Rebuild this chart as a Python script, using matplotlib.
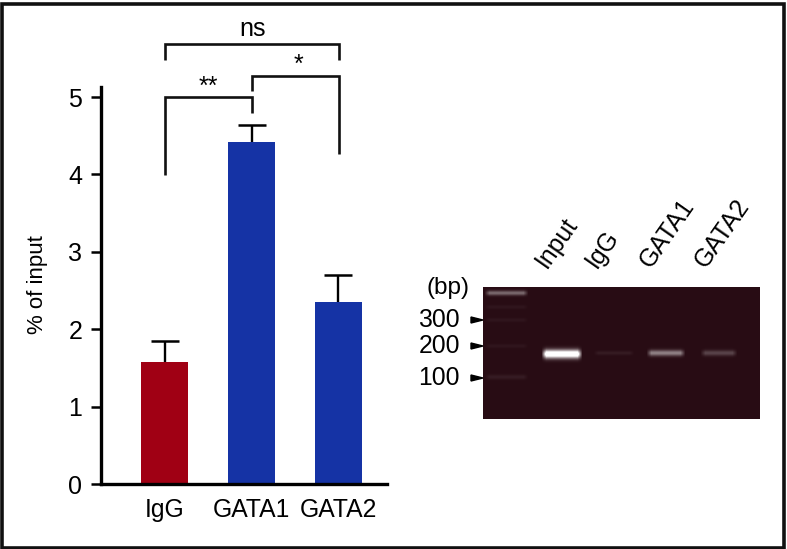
#!/usr/bin/env python3
import matplotlib
matplotlib.use('Agg')
import matplotlib.pyplot as plt
from matplotlib.patches import Rectangle
import numpy as np

W, H = 787, 549

categories = ['IgG', 'GATA1', 'GATA2']
means = [1.58, 4.42, 2.35]
err_up = [0.27, 0.22, 0.35]
bar_colors = ['#a00014', '#1533a5', '#1533a5']
y_ticks = [0, 1, 2, 3, 4, 5]

lanes = ['Input', 'IgG', 'GATA1', 'GATA2']
size_labels = ['300', '200', '100']
size_rows = [320, 346, 378]

# gel bands: x from, x to, y centre, half height, brightness (0-1)
band_x0 = [487, 544, 596, 649, 703, 487, 487, 487, 487]
band_x1 = [526, 580, 632, 683, 735, 526, 526, 526, 526]
band_y = [293, 354, 353, 353, 353, 377, 346, 320, 307]
band_h = [2.4, 4.2, 2.0, 3.0, 2.8, 2.4, 2.0, 2.0, 2.0]
band_v = [0.30, 1.0, 0.05, 0.38, 0.18, 0.05, 0.03, 0.03, 0.03]

plt.rcParams['font.family'] = ['Liberation Sans', 'DejaVu Sans']

fig = plt.figure(figsize=(W / 100, H / 100), dpi=100, facecolor='white')


def pix_axes(x0, y0, x1, y1):
    return fig.add_axes([x0 / W, 1 - y1 / H, (x1 - x0) / W, (y1 - y0) / H])


# outer frame
fig.add_artist(Rectangle((1.5 / W, 1.5 / H), 782.5 / W, 544 / H, transform=fig.transFigure,
                         fill=False, edgecolor='#111111', linewidth=2.6))

# bar chart, 0 at y=484 and 5 at y=97
ax = pix_axes(101, 87, 387, 484)
ax.patch.set_alpha(0)
ax.set_ylim(0, 397 / 77.4)
ax.set_xlim(101, 387)
xpos = [164.5, 251.5, 338]
tops = [m + e for m, e in zip(means, err_up)]
ax.bar(xpos, means, width=47, color=bar_colors, zorder=2)
ax.vlines(xpos, means, tops, color='black', linewidth=1.7, zorder=1)
ax.plot(xpos, tops, linestyle='none', marker='_', markersize=20, markeredgewidth=1.8,
        color='black', zorder=1)
for side in ['top', 'right']:
    ax.spines[side].set_visible(False)
for side in ['left', 'bottom']:
    ax.spines[side].set_linewidth(2.4)
ax.set_yticks(y_ticks)
ax.set_xticks(xpos)
ax.set_xticklabels(categories, fontsize=17.8)
ax.tick_params(axis='x', length=0, pad=10)
ax.tick_params(axis='y', length=7.5, width=1.8, labelsize=18, pad=6)

fig.text(37 / W, 1 - 285 / H, '% of input', rotation=90, ha='center', va='center',
         fontsize=16)


def bracket(xs, ys):
    fig.add_artist(plt.Line2D([x / W for x in xs], [1 - y / H for y in ys], color='#111111',
                              linewidth=1.9, solid_capstyle='butt', solid_joinstyle='miter'))


# significance brackets
bracket([164.5, 164.5, 339, 339], [60, 44, 44, 60])
bracket([252, 252, 339, 339], [91, 75.5, 75.5, 154])
bracket([164.5, 164.5, 252, 252], [175, 97, 97, 113])
fig.text(253 / W, 1 - 29 / H, 'ns', ha='center', va='center', fontsize=18)
fig.text(298 / W, 1 - 65 / H, '*', ha='center', va='center', fontsize=18)
fig.text(208 / W, 1 - 87 / H, '**', ha='center', va='center', fontsize=18)

# gel picture
gx0, gy0, gx1, gy1 = 483, 287, 760, 419
gel = pix_axes(gx0, gy0, gx1, gy1)
xx, yy = np.meshgrid(np.arange(gx0, gx1) + 0.5, np.arange(gy0, gy1) + 0.5)
signal = np.zeros(xx.shape)
for x0, x1, yc, h, v in zip(band_x0, band_x1, band_y, band_h, band_v):
    across = np.clip(np.minimum(xx - x0, x1 - xx) / 5 + 0.5, 0, 1)
    down = np.exp(-((yy - yc) / h) ** 2)
    signal = np.maximum(signal, v * across * down)
base = np.array([40, 12, 20]) / 255
img = base + (1 - base) * np.clip(signal * 1.25, 0, 1)[..., None]
gel.imshow(img, extent=[gx0, gx1, gy1, gy0], aspect='auto', interpolation='bilinear')
gel.axis('off')

# size markers
fig.text(469 / W, 1 - 288 / H, '(bp)', ha='right', va='center', fontsize=17.5)
for label, row in zip(size_labels, size_rows):
    fig.text(460 / W, 1 - row / H, label, ha='right', va='center', fontsize=17.8)
    fig.add_artist(plt.Polygon([[471 / W, 1 - (row - 3) / H], [483 / W, 1 - row / H],
                                [471 / W, 1 - (row + 3) / H]], closed=True,
                               transform=fig.transFigure, color='black'))

# lane labels
for label, x in zip(lanes, [551, 601, 655, 710]):
    fig.text(x / W, 1 - 272 / H, label, rotation=55, ha='left', va='bottom',
             rotation_mode='anchor', fontsize=17.8)

fig.savefig('out.png', dpi=100, facecolor='white')
